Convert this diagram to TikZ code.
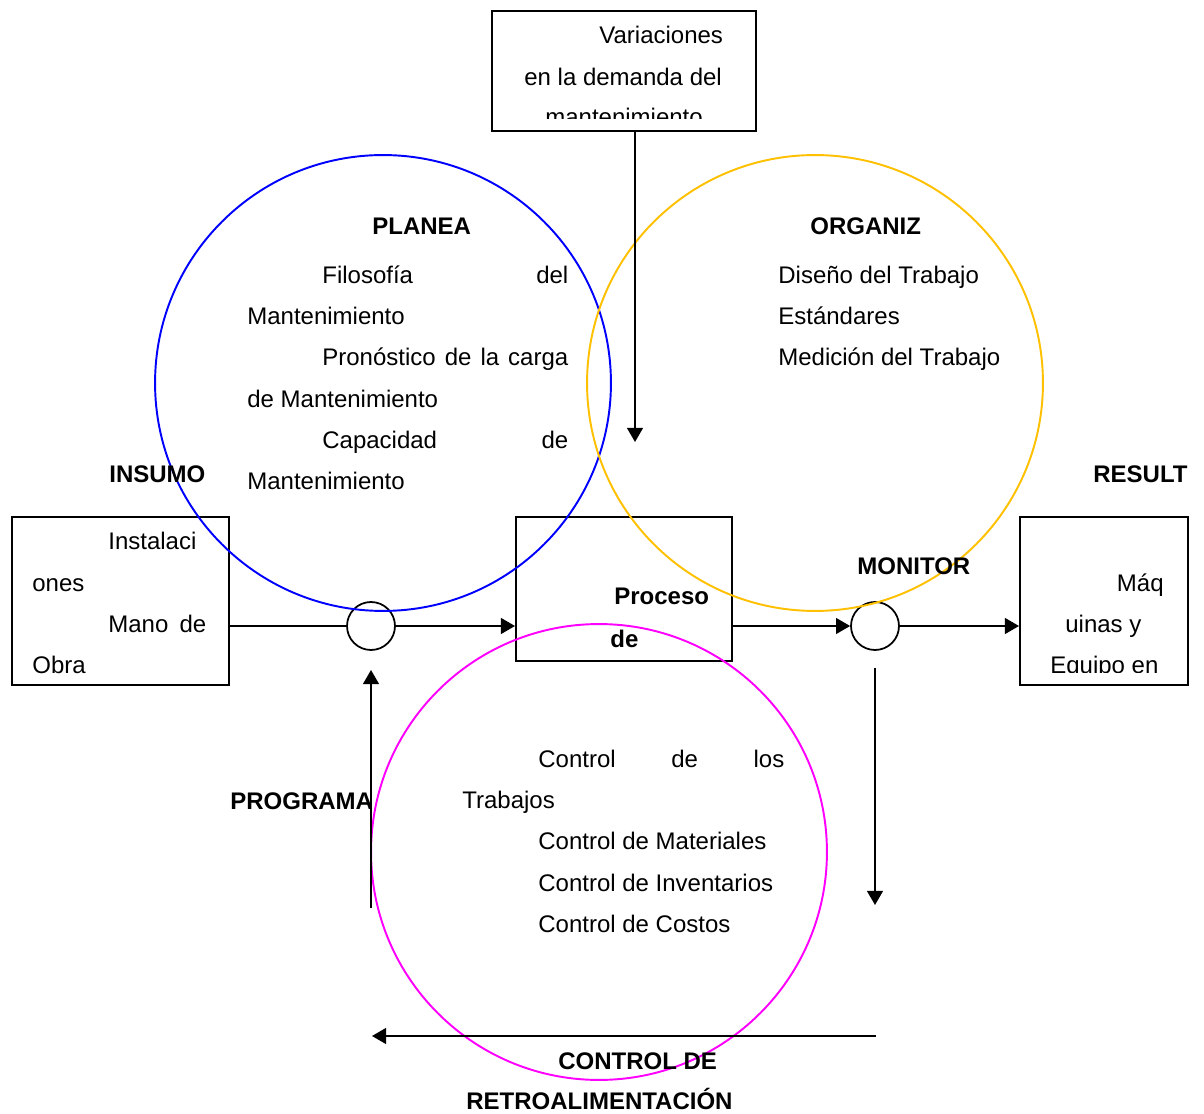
\documentclass[tikz,border=0pt]{standalone}
\usepackage{fontspec}
\setmainfont{Liberation Sans}
\usetikzlibrary{arrows.meta}
\definecolor{ringblue}{RGB}{0,0,255}
\definecolor{ringgold}{RGB}{255,192,0}
\definecolor{ringmag}{RGB}{255,0,255}

\begin{document}
\begin{tikzpicture}[x=0.02cm,y=-0.02cm,
  txt/.style={font=\fontsize{13.66}{16}\selectfont, inner sep=0pt, anchor=base west},
  btxt/.style={txt, font=\fontsize{13.66}{16}\selectfont\bfseries},
  box/.style={draw, line width=1pt, anchor=north west, inner sep=0pt},
  ring/.style={circle, draw, line width=1.1pt, minimum size=9.12cm, inner sep=0pt},
  sumnode/.style={circle, draw, line width=1pt, minimum size=0.96cm, inner sep=0pt},
  conn/.style={line width=1pt},
  arr/.style={conn, -{Triangle[length=8pt,width=9pt]}}
]
\useasboundingbox (0,0) rectangle (1204,1114);

% boxes
\node[box, minimum width=5.28cm, minimum height=2.4cm] (varbox) at (491,10) {};
\node[box, minimum width=4.34cm, minimum height=3.36cm] (inbox) at (11,516) {};
\node[box, minimum width=4.32cm, minimum height=2.88cm] (proc) at (515,516) {};
\node[box, minimum width=3.36cm, minimum height=3.36cm] (outbox) at (1019,516) {};

% summing junctions
\node[sumnode] (sumL) at (371,626) {};
\node[sumnode] (sumR) at (875,626) {};

% function rings
\node[ring, draw=ringblue] (planring) at (383,383) {};
\node[ring, draw=ringgold] (orgring) at (815,383) {};
\node[ring, draw=ringmag] (ctrlring) at (599,852) {};

% free ends of connectors
\coordinate (vtip) at (635,442);
\coordinate (mtop) at (875,668);
\coordinate (mtip) at (875,905);
\coordinate (fbR) at (876,1036);
\coordinate (fbL) at (372,1036);
\coordinate (pgB) at (371,908);
\coordinate (pgT) at (371,670);

% main flow
\draw[conn] (sumL -| inbox.east) -- (sumL.west);
\draw[arr] (sumL.east) -- (sumL -| proc.west);
\draw[arr] (sumR -| proc.east) -- (sumR.west);
\draw[arr] (sumR.east) -- (sumR -| outbox.west);
\draw[arr] (vtip |- varbox.south) -- (vtip);
\draw[arr] (mtop) -- (mtip);
\draw[arr] (fbR) -- (fbL);
\draw[arr] (pgB) -- (pgT);

% demand box text
\begin{scope}
  \clip (491,10) rectangle (755,119);
  \node[txt] (v1) at (599,44) {Variaciones};
  \node[txt] (v2) at (524,86) {en la demanda del};
  \node[txt] (v3) at (545,126) {mantenimiento};
\end{scope}

% planning
\node[btxt] (planlbl) at (372,235) {PLANEA};
\node[txt] (p1) at (322,284) {\makebox[4.92cm]{Filosofía\hfill del}};
\node[txt] (p2) at (247,325) {Mantenimiento};
\node[txt] (p3) at (322,366) {\makebox[4.92cm][s]{Pronóstico de la carga}};
\node[txt] (p4) at (247,408) {de Mantenimiento};
\node[txt] (p5) at (322,449) {\makebox[4.92cm]{Capacidad\hfill de}};
\node[txt] (p6) at (247,490) {Mantenimiento};

% organizing
\node[btxt] (orglbl) at (810,235) {ORGANIZ};
\node[txt] (o1) at (778,284) {Diseño del Trabajo};
\node[txt] (o2) at (778,325) {Estándares};
\node[txt] (o3) at (778,366) {Medición del Trabajo};

% input / output labels
\node[btxt] (inlbl) at (109,483) {INSUMO};
\node[btxt] (outlbl) at (1093,483) {RESULT};
\node[txt] (i1) at (108,550) {Instalaci};
\node[txt] (i2) at (32,592) {ones};
\node[txt] (i3) at (108,633) {\makebox[1.96cm]{Mano\hfill de}};
\node[txt] (i4) at (32,674) {Obra};

% process box text
\node[btxt] (pr1) at (614,605) {Proceso};
\node[btxt] (pr2) at (610,647) {de};

% monitor and results
\node[btxt] (monlbl) at (857,575) {MONITOR};
\begin{scope}
  \clip (1019,516) rectangle (1187,673);
  \node[txt, anchor=base east] (r1) at (1164,592) {Máq};
  \node[txt] (r2) at (1065,633) {uinas y};
  \node[txt] (r3) at (1050,674) {Equipo en};
\end{scope}

% control
\node[btxt] (proglbl) at (230,809) {PROGRAMA};
\node[txt] (c1) at (538,767) {\makebox[4.92cm]{Control\hfill de\hfill los}};
\node[txt] (c2) at (462,808) {Trabajos};
\node[txt] (c3) at (538,849) {Control de Materiales};
\node[txt] (c4) at (538,891) {Control de Inventarios};
\node[txt] (c5) at (538,932) {Control de Costos};
\node[btxt] (fb1) at (558,1069) {CONTROL DE};
\node[btxt] (fb2) at (466,1109) {RETROALIMENTACIÓN};
\end{tikzpicture}
\end{document}
